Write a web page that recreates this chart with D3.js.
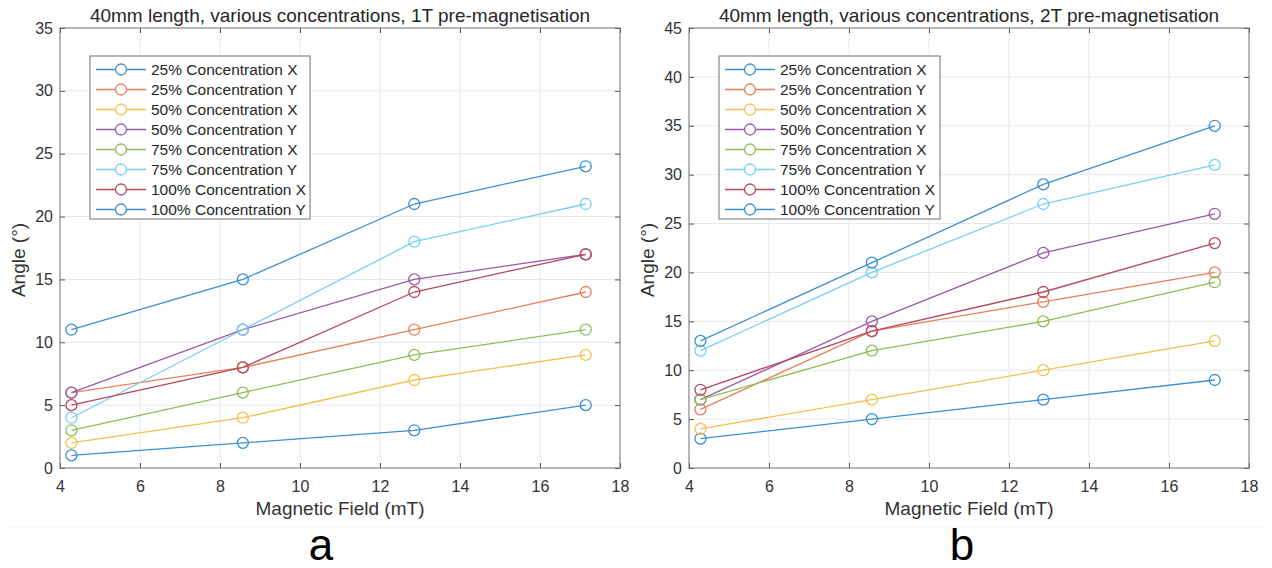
<!DOCTYPE html>
<html>
<head>
<meta charset="utf-8">
<script src="https://cdn.jsdelivr.net/npm/d3@7"></script>
<style>
  body { margin: 0; background: #fff; }
  text { font-family: Arial, "Liberation Sans", sans-serif; }
</style>
</head>
<body>
<svg id="chart" width="1272" height="568"></svg>
<script>
const field = [4.2857, 8.5714, 12.857, 17.143];
const seriesNames = [
  '25% Concentration X', '25% Concentration Y',
  '50% Concentration X', '50% Concentration Y',
  '75% Concentration X', '75% Concentration Y',
  '100% Concentration X', '100% Concentration Y'
];
const colors = ['#3d8fd1', '#e5805a', '#f0c150', '#9a5aa8', '#8fbd5a', '#78cff2', '#b5485e', '#3d8fd1'];

// 1T pre-magnetisation
const angles1T = [
  [1, 2, 3, 5],
  [6, 8, 11, 14],
  [2, 4, 7, 9],
  [6, 11, 15, 17],
  [3, 6, 9, 11],
  [4, 11, 18, 21],
  [5, 8, 14, 17],
  [11, 15, 21, 24]
];
// 2T pre-magnetisation
const angles2T = [
  [3, 5, 7, 9],
  [6, 14, 17, 20],
  [4, 7, 10, 13],
  [7, 15, 22, 26],
  [7, 12, 15, 19],
  [12, 20, 27, 31],
  [8, 14, 18, 23],
  [13, 21, 29, 35]
];

const xTicks = [4, 6, 8, 10, 12, 14, 16, 18];
const yTicks1 = [0, 5, 10, 15, 20, 25, 30, 35];
const yTicks2 = [0, 5, 10, 15, 20, 25, 30, 35, 40, 45];

const svg = d3.select('#chart');

// faint separator under the axes
svg.append('line')
  .attr('x1', 8).attr('x2', 1264).attr('y1', 527).attr('y2', 527)
  .style('stroke', '#f3f3f3');

panel = (opt) => {
  const x = d3.scaleLinear().domain([4, 18]).range([opt.left, opt.right]);
  const y = d3.scaleLinear().domain([0, opt.ymax]).range([468, 28]);
  const g = svg.append('g');

  // grid
  g.selectAll('.gx').data(xTicks.slice(1, -1)).enter().append('line')
    .attr('x1', d => x(d)).attr('x2', d => x(d))
    .attr('y1', y.range()[1]).attr('y2', y.range()[0])
    .style('stroke', '#e8e8e8');
  g.selectAll('.gy').data(opt.yTicks.slice(1, -1)).enter().append('line')
    .attr('x1', opt.left).attr('x2', opt.right)
    .attr('y1', d => y(d)).attr('y2', d => y(d))
    .style('stroke', '#e8e8e8');

  // axes with inward ticks
  const ax = (gen, tr) => g.append('g').attr('transform', tr).call(gen);
  const styleAxis = (sel) => {
    sel.select('.domain').remove();
    sel.selectAll('line').style('stroke', '#555');
    sel.selectAll('text').style('font-size', '16px').style('fill', '#333');
  };
  ax(d3.axisBottom(x).tickValues(xTicks).tickSize(-5).tickPadding(13).tickFormat(d3.format('d')), 'translate(0,468)')
    .call(styleAxis);
  ax(d3.axisTop(x).tickValues(xTicks).tickSize(-5).tickFormat(''), 'translate(0,28)')
    .call(styleAxis);
  ax(d3.axisLeft(y).tickValues(opt.yTicks).tickSize(-5).tickPadding(7).tickFormat(d3.format('d')), `translate(${opt.left},0)`)
    .call(styleAxis);
  ax(d3.axisRight(y).tickValues(opt.yTicks).tickSize(-5).tickFormat(''), `translate(${opt.right},0)`)
    .call(styleAxis);

  g.append('rect')
    .attr('x', opt.left).attr('y', 28)
    .attr('width', opt.right - opt.left).attr('height', 440)
    .style('fill', 'none').style('stroke', '#6e6e6e');

  // series
  const line = d3.line().x((d, i) => x(field[i])).y(d => y(d));
  opt.data.forEach((s, k) => {
    g.append('path').datum(s)
      .attr('d', line)
      .style('fill', 'none').style('stroke', colors[k]).style('stroke-width', 1.3);
    g.selectAll('.m' + k).data(s).enter().append('circle')
      .attr('cx', (d, i) => x(field[i])).attr('cy', d => y(d)).attr('r', 5.5)
      .style('fill', 'none').style('stroke', colors[k]).style('stroke-width', 1.3);
  });

  // legend
  const lx = opt.legendX, ly = 56;
  g.append('rect')
    .attr('x', lx).attr('y', ly).attr('width', opt.legendW).attr('height', 163)
    .style('fill', '#fff').style('stroke', '#6e6e6e');
  seriesNames.forEach((n, k) => {
    const yy = ly + 13.5 + k * 20;
    g.append('line')
      .attr('x1', lx + 6).attr('x2', lx + 56).attr('y1', yy).attr('y2', yy)
      .style('stroke', colors[k]).style('stroke-width', 1.3);
    g.append('circle').attr('cx', lx + 31).attr('cy', yy).attr('r', 5.5)
      .style('fill', '#fff').style('stroke', colors[k]).style('stroke-width', 1.3);
    g.append('text').attr('x', lx + 61).attr('y', yy + 5.5)
      .style('font-size', '15.5px').style('fill', '#262626').text(n);
  });

  const cx = (opt.left + opt.right) / 2;
  g.append('text').attr('x', cx).attr('y', 22).attr('text-anchor', 'middle')
    .style('font-size', '19px').style('fill', '#262626').text(opt.title);
  g.append('text').attr('x', cx).attr('y', 515).attr('text-anchor', 'middle')
    .style('font-size', '19px').style('fill', '#333').text('Magnetic Field (mT)');
  g.append('text')
    .attr('transform', `translate(${opt.left - 35},260) rotate(-90)`)
    .attr('text-anchor', 'middle')
    .style('font-size', '19px').style('fill', '#333').text('Angle (°)');
  g.append('text').attr('x', opt.letterX).attr('y', 560).attr('text-anchor', 'middle')
    .style('font-size', '44px').style('fill', '#000').text(opt.letter);
};

panel({ left: 60, right: 620, ymax: 35, yTicks: yTicks1, data: angles1T,
  legendX: 90, legendW: 220, letterX: 321, letter: 'a',
  title: '40mm length, various concentrations, 1T pre-magnetisation' });
panel({ left: 689, right: 1249, ymax: 45, yTicks: yTicks2, data: angles2T,
  legendX: 719, legendW: 221, letterX: 962, letter: 'b',
  title: '40mm length, various concentrations, 2T pre-magnetisation' });
</script>
</body>
</html>
